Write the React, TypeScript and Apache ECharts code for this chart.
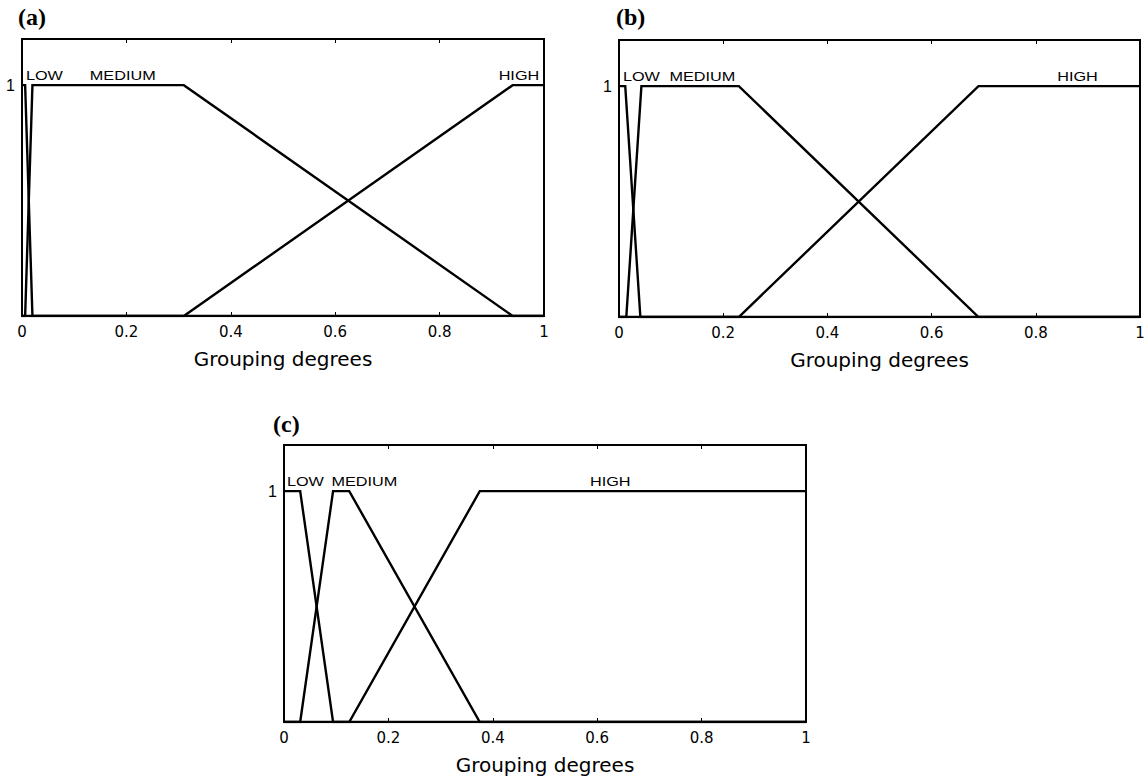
import React, { useEffect, useRef } from "react";
import * as echarts from "echarts";

// Membership functions, panel (a)
const aLow = [[0, 1], [0.006, 1], [0.02, 0], [1, 0]];
const aMedium = [[0, 0], [0.006, 0], [0.02, 1], [0.31, 1], [0.94, 0], [1, 0]];
const aHigh = [[0, 0], [0.31, 0], [0.94, 1], [1, 1]];
// panel (b)
const bLow = [[0, 1], [0.012, 1], [0.041, 0], [1, 0]];
const bMedium = [[0, 0], [0.014, 0], [0.043, 1], [0.23, 1], [0.69, 0], [1, 0]];
const bHigh = [[0, 0], [0.23, 0], [0.69, 1], [1, 1]];
// panel (c)
const cLow = [[0, 1], [0.031, 1], [0.094, 0], [1, 0]];
const cMedium = [[0, 0], [0.031, 0], [0.094, 1], [0.125, 1], [0.375, 0], [1, 0]];
const cHigh = [[0, 0], [0.125, 0], [0.375, 1], [1, 1]];

const mfNames = ["LOW", "MEDIUM", "HIGH"];
const aLabelX = [0.043, 0.193, 0.952];
const bLabelX = [0.043, 0.16, 0.88];
const cLabelX = [0.041, 0.154, 0.625];

const panelTitles = ["(a)", "(b)", "(c)"];
const xAxisName = "Grouping degrees";

const panels = [
  { mfs: [aLow, aMedium, aHigh], labelX: aLabelX, grid: { left: 22, top: 39, width: 522, height: 277 }, title: { left: 18, top: 5 } },
  { mfs: [bLow, bMedium, bHigh], labelX: bLabelX, grid: { left: 619, top: 40, width: 521, height: 277 }, title: { left: 616, top: 5 } },
  { mfs: [cLow, cMedium, cHigh], labelX: cLabelX, grid: { left: 284, top: 445, width: 522, height: 277 }, title: { left: 273, top: 412 } },
];

export default function App() {
  const ref = useRef<HTMLDivElement>(null);
  useEffect(() => {
    if (!ref.current) return;
    const chart = echarts.init(ref.current, undefined, { renderer: "svg" });
    const grids: any[] = [];
    const xAxes: any[] = [];
    const yAxes: any[] = [];
    const series: any[] = [];
    const titles: any[] = [];
    panels.forEach((p, i) => {
      grids.push({
        ...p.grid,
        show: true,
        borderColor: "#000",
        borderWidth: 2,
        backgroundColor: "transparent",
      });
      titles.push({
        text: panelTitles[i],
        left: p.title.left,
        top: p.title.top,
        padding: 0,
        textStyle: { fontFamily: "Liberation Serif", fontWeight: "bold", fontSize: 24, color: "#000" },
      });
      xAxes.push({
        type: "value",
        gridIndex: i,
        min: 0,
        max: 1,
        interval: 0.2,
        position: "bottom",
        name: xAxisName,
        nameLocation: "middle",
        nameGap: 33,
        nameTextStyle: { fontFamily: "DejaVu Sans", fontSize: 20, color: "#000" },
        axisLine: { show: false },
        axisTick: { show: true, inside: true, length: 4, lineStyle: { color: "#000", width: 1 } },
        axisLabel: { fontFamily: "DejaVu Sans", fontSize: 15, color: "#000", margin: 8 },
        splitLine: { show: false },
      });
      xAxes.push({
        type: "value",
        gridIndex: i,
        min: 0,
        max: 1,
        interval: 0.2,
        position: "top",
        axisLine: { show: false },
        axisTick: { show: true, inside: true, length: 4, lineStyle: { color: "#000", width: 1 } },
        axisLabel: { show: false },
        splitLine: { show: false },
      });
      yAxes.push({
        type: "value",
        gridIndex: i,
        min: 0,
        max: 1.2,
        interval: 1,
        axisLine: { show: false },
        axisTick: { show: false },
        axisLabel: {
          fontFamily: "Liberation Sans",
          fontSize: 16,
          color: "#000",
          margin: 7,
          formatter: (v: number) => (v === 1 ? "1" : ""),
        },
        splitLine: { show: false },
      });
      p.mfs.forEach((d, k) => {
        series.push({
          type: "line",
          name: `${panelTitles[i]} ${mfNames[k]}`,
          xAxisIndex: i * 2,
          yAxisIndex: i,
          data: d,
          showSymbol: false,
          symbol: "none",
          lineStyle: { color: "#000", width: 2.4, join: "miter" },
          silent: true,
        });
      });
    });
    chart.setOption({
      animation: false,
      backgroundColor: "#fff",
      title: titles,
      grid: grids,
      xAxis: xAxes,
      yAxis: yAxes,
      series,
    });
    // MF name labels, placed through the axes' own scales
    const graphics: any[] = [];
    panels.forEach((p, i) => {
      p.labelX.forEach((x, k) => {
        const pt = chart.convertToPixel({ xAxisIndex: i * 2, yAxisIndex: i } as any, [x, 1]) as number[];
        graphics.push({
          type: "text",
          x: pt[0],
          y: pt[1] - 3,
          scaleX: 1.3,
          scaleY: 1,
          silent: true,
          style: {
            text: mfNames[k],
            font: "12.5px 'Liberation Sans'",
            fill: "#000",
            align: "center",
            verticalAlign: "bottom",
          },
        });
      });
    });
    chart.setOption({ graphic: graphics });
    return () => chart.dispose();
  }, []);
  return (
    <div
      ref={ref}
      style={{ position: "absolute", left: 0, top: 0, width: 1148, height: 781, background: "#fff" }}
    />
  );
}
